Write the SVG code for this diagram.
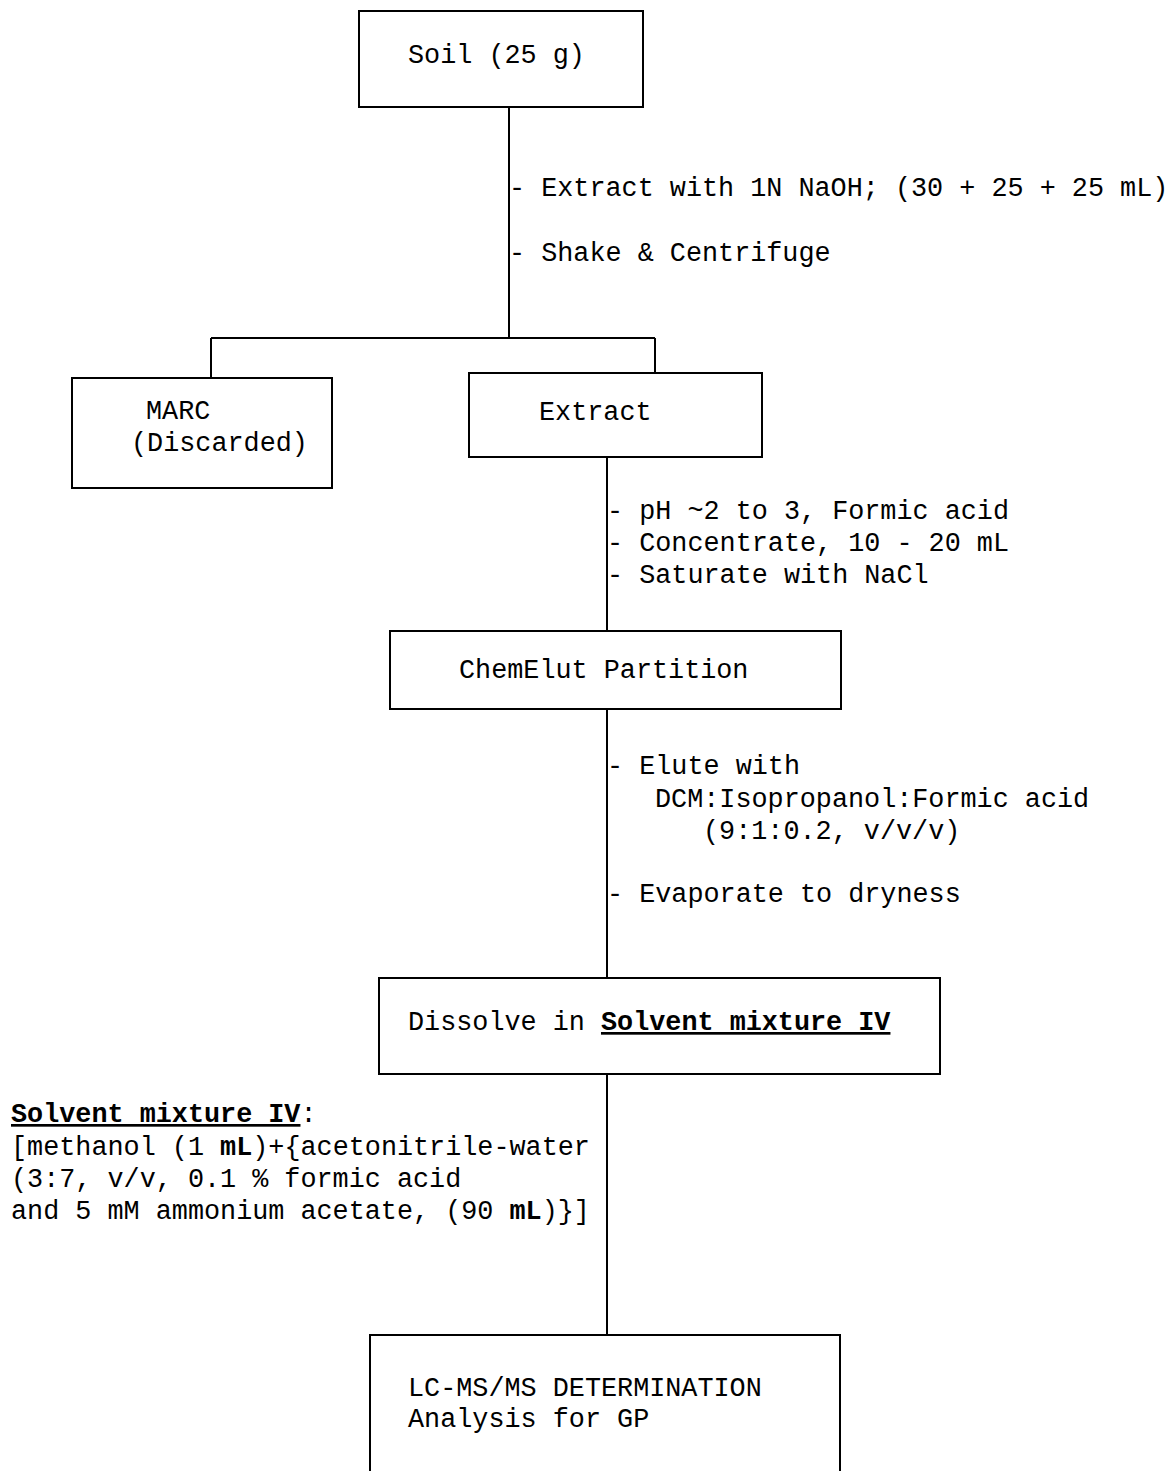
<svg xmlns="http://www.w3.org/2000/svg" width="1175" height="1471" viewBox="0 0 1175 1471">
<style>
.box{fill:#fff;stroke:#000;stroke-width:2}
.ln{fill:none;stroke:#000;stroke-width:2}
text{font-family:"Liberation Mono","Courier New",monospace;font-size:26.8px;fill:#000}
.b{font-weight:bold}
.u{text-decoration:underline}
</style>
<rect width="1175" height="1471" fill="#fff"/>
<g id="connectors">
<path class="ln" d="M509 107V338M211 338H655M211 338V378M655 338V373"/>
<path class="ln" d="M607 457V631"/>
<path class="ln" d="M607 709V978"/>
<path class="ln" d="M607 1074V1335"/>
</g>
<g id="labels">
<text x="509" y="196" xml:space="preserve">- Extract with 1N NaOH; (30 + 25 + 25 mL)</text>
<text x="509" y="261">- Shake &amp; Centrifuge</text>
<text x="607" y="519">- pH ~2 to 3, Formic acid</text>
<text x="607" y="551">- Concentrate, 10 - 20 mL</text>
<text x="607" y="583">- Saturate with NaCl</text>
<text x="607" y="774">- Elute with</text>
<text x="655" y="807">DCM:Isopropanol:Formic acid</text>
<text x="703" y="839">(9:1:0.2, v/v/v)</text>
<text x="607" y="902">- Evaporate to dryness</text>
</g>
<g id="soil">
<rect class="box" x="359" y="11" width="284" height="96"/>
<text x="408" y="63">Soil (25 g)</text>
</g>
<g id="marc">
<rect class="box" x="72" y="378" width="260" height="110"/>
<text x="146" y="419">MARC</text>
<text x="131" y="451">(Discarded)</text>
</g>
<g id="extract">
<rect class="box" x="469" y="373" width="293" height="84"/>
<text x="539" y="420">Extract</text>
</g>
<g id="chemelut">
<rect class="box" x="390" y="631" width="451" height="78"/>
<text x="459" y="678">ChemElut Partition</text>
</g>
<g id="dissolve">
<rect class="box" x="379" y="978" width="561" height="96"/>
<text x="408" y="1030">Dissolve in <tspan class="b u">Solvent mixture IV</tspan></text>
</g>
<g id="solvent-note">
<text x="11" y="1122"><tspan class="b u">Solvent mixture IV</tspan>:</text>
<text x="11" y="1155">[methanol (1 <tspan class="b">mL</tspan>)+{acetonitrile-water</text>
<text x="11" y="1187">(3:7, v/v, 0.1 % formic acid</text>
<text x="11" y="1219">and 5 mM ammonium acetate, (90 <tspan class="b">mL</tspan>)}]</text>
</g>
<g id="lcms">
<path class="ln" d="M370 1471V1335H840V1471"/>
<text x="408" y="1396">LC-MS/MS DETERMINATION</text>
<text x="408" y="1427">Analysis for GP</text>
</g>
</svg>
